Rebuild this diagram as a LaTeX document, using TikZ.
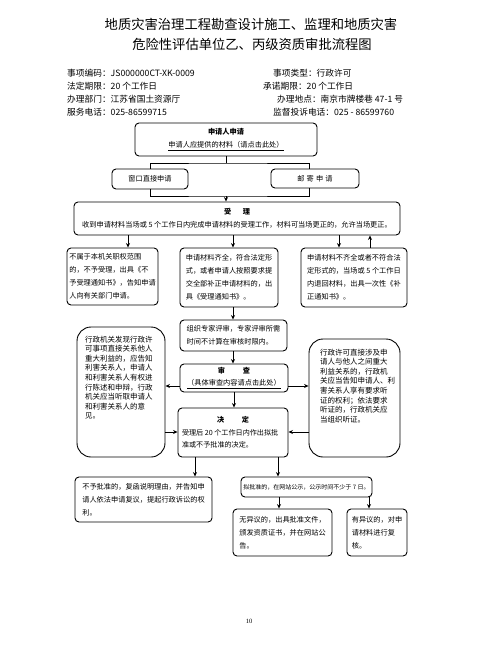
\documentclass[tikz,border=0pt]{standalone}
\usepackage{fontspec}
\setmainfont{Noto Sans CJK SC}
\newfontfamily\pnfont{Liberation Serif}
\usetikzlibrary{arrows.meta}
\begin{document}
\begin{tikzpicture}[x=1pt,y=-1pt,
  box/.style={draw, rounded corners=4pt, line width=0.9pt, inner sep=0pt, align=center, font=\fontsize{7.2}{13}\selectfont},
  lbox/.style={box, align=left},
  tallbox/.style={draw, rounded corners=14pt, line width=0.9pt, inner sep=0pt},
  talltxt/.style={anchor=north west, inner sep=0pt, align=left, font=\fontsize{7.5}{9.6}\selectfont},
  info/.style={anchor=west, inner sep=0pt, font=\fontsize{8.7}{10}\selectfont},
  ttl/.style={inner sep=0pt, font=\fontsize{13.3}{16}\selectfont},
  arr/.style={-{Stealth[length=4.5pt,width=4pt]}, line width=0.8pt},
  ln/.style={line width=0.8pt}]
\useasboundingbox[fill=white] (0,0) rectangle (500,667);

% title
\node[ttl] (t1) at (251,24) {地质灾害治理工程勘查设计施工、监理和地质灾害};
\node[ttl] (t2) at (252,44) {危险性评估单位乙、丙级资质审批流程图};

% info
\node[info] (i1) at (67,73) {事项编码：JS000000CT-XK-0009};
\node[info] (i2) at (67,86) {法定期限：20 个工作日};
\node[info] (i3) at (67,99) {办理部门：江苏省国土资源厅};
\node[info] (i4) at (67,112) {服务电话：025-86599715};
\node[info] (i5) at (273,73) {事项类型：行政许可};
\node[info] (i6) at (263,86) {承诺期限：20 个工作日};
\node[info] (i7) at (277,99) {办理地点：南京市牌楼巷 47-1 号};
\node[info] (i8) at (273,112) {监督投诉电话：025 - 86599760};

% boxes
\node[box, minimum width=182pt, minimum height=33pt] (A) at (226,139.5)
  {{\bfseries 申请人申请}\\\underline{申请人应提供的材料（请点击此处）}};
\node[box, minimum width=76pt, minimum height=20pt] (B1) at (150,179) {窗口直接申请};
\node[box, minimum width=88pt, minimum height=19pt] (B2) at (315,178.5) {邮\hspace{0.3em}寄\hspace{0.3em}申\hspace{0.3em}请};

\node[box, minimum width=326pt, minimum height=33pt] (C) at (237,218.5)
  {{\bfseries 受\hspace{1.6em}理}\\收到申请材料当场或 5 个工作日内完成申请材料的受理工作，材料可当场更正的，允许当场更正。};

\node[lbox, minimum width=91pt, minimum height=57pt] (D1) at (112.5,276.5)
  {不属于本机关职权范围\\的，不予受理，出具《不\\予受理通知书》，告知申请\\人向有关部门申请。};
\node[lbox, minimum width=98pt, minimum height=59pt] (D2) at (229,277.5)
  {申请材料齐全，符合法定形\\式，或者申请人按照要求提\\交全部补正申请材料的，出\\具《受理通知书》。};
\node[lbox, minimum width=106pt, minimum height=59pt] (D3) at (354,277.5)
  {申请材料不齐全或者不符合法\\定形式的，当场或 5 个工作日\\内退回材料，出具一次性《补\\正通知书》。};

\node[lbox, minimum width=107pt, minimum height=31pt] (E) at (233.5,335.5)
  {组织专家评审，专家评审所需\\时间不计算在审核时限内。};
\node[box, minimum width=108pt, minimum height=28pt, font=\fontsize{7.2}{12}\selectfont] (F) at (234,378)
  {{\bfseries 审\hspace{2.5em}查}\\\underline{（具体审查内容请点击此处）}};
\node[lbox, minimum width=110pt, minimum height=49pt, font=\fontsize{7.1}{12.5}\selectfont] (G) at (233,432.5)
  {\makebox[102pt]{\bfseries 决\hspace{2.5em}定}\\受理后 20 个工作日内作出拟批\\准或不予批准的决定。};

\node[tallbox, minimum width=88pt, minimum height=130pt] (L) at (121,392) {};
\node[talltxt] (Lt) at (85,335.5)
  {行政机关发现行政许\\可事项直接关系他人\\重大利益的，应告知\\利害关系人，申请人\\和利害关系人有权进\\行陈述和申辩，行政\\机关应当听取申请人\\和利害关系人的意\\见。};
\node[tallbox, minimum width=91pt, minimum height=118pt] (R) at (354.5,398) {};
\node[talltxt] (Rt) at (320,348.5)
  {行政许可直接涉及申\\请人与他人之间重大\\利益关系的，行政机\\关应当告知申请人、利\\害关系人享有要求听\\证的权利；依法要求\\听证的，行政机关应\\当组织听证。};

\node[lbox, minimum width=137pt, minimum height=45pt] (H1) at (143.5,499.5)
  {不予批准的，复函说明理由，并告知申\\请人依法申请复议，提起行政诉讼的权\\利。};
\node[box, minimum width=131pt, minimum height=20pt, font=\fontsize{6}{8}\selectfont] (H2) at (306.5,487)
  {拟批准的，在网站公示，公示时间不少于 7 日。};
\node[lbox, minimum width=99pt, minimum height=47pt] (I1) at (282.5,532.5)
  {无异议的，出具批准文件，\\颁发资质证书，并在网站公\\告。};
\node[lbox, minimum width=60pt, minimum height=47pt] (I2) at (377,532.5)
  {有异议的，对申\\请材料进行复\\核。};

\node[inner sep=0pt, font=\pnfont\fontsize{6.5}{8}\selectfont] (pn) at (249,621) {10};

% helper coordinates
\coordinate (busT) at (226,163);
\coordinate (busB) at (226,196);
\coordinate (xB2) at (309,0);
\coordinate (x1) at (128,0);
\coordinate (x2) at (233,0);
\coordinate (x3) at (339,0);
\coordinate (x4) at (370,0);
\coordinate (x5) at (195,0);
\coordinate (x6) at (278,0);
\coordinate (x7) at (279,0);
\coordinate (x8) at (369,0);
\coordinate (yA) at (0,386);
\coordinate (yB) at (0,432);

% connectors
\draw[ln] (A.south) -- (busT);
\draw[ln] (B1.north) |- (busT) -| (B2.north -| xB2);
\draw[ln] (B1.south) |- (busB) -| (B2.south -| xB2);
\draw[arr] (busB) -- (C.north -| busB);

\draw[arr] (C.south -| x1) -- (D1.north -| x1);
\draw[arr] (C.south -| x2) -- (D2.north -| x2);
\draw[arr] (C.south -| x3) -- (D3.north -| x3);
\draw[arr] (D3.north -| x4) -- (C.south -| x4);

\draw[arr] (D2.south -| x2) -- (E.north -| x2);
\draw[arr] (E.south -| x2) -- (F.north -| x2);
\draw[arr] (F.south) -- (F.south |- G.north);

\draw[arr] (F.west |- yA) -- (L.east |- yA);
\draw[arr] (L.east |- yB) -- (G.west |- yB);
\draw[arr] (F.east |- yA) -- (R.west |- yA);
\draw[arr] (R.west |- yB) -- (G.east |- yB);

\draw[arr] (G.south -| x5) -- (H1.north -| x5);
\draw[arr] (G.south -| x6) -- (H2.north -| x6);
\draw[arr] (H2.south -| x7) -- (I1.north -| x7);
\draw[arr] (H2.south -| x8) -- (I2.north -| x8);
\end{tikzpicture}
\end{document}
